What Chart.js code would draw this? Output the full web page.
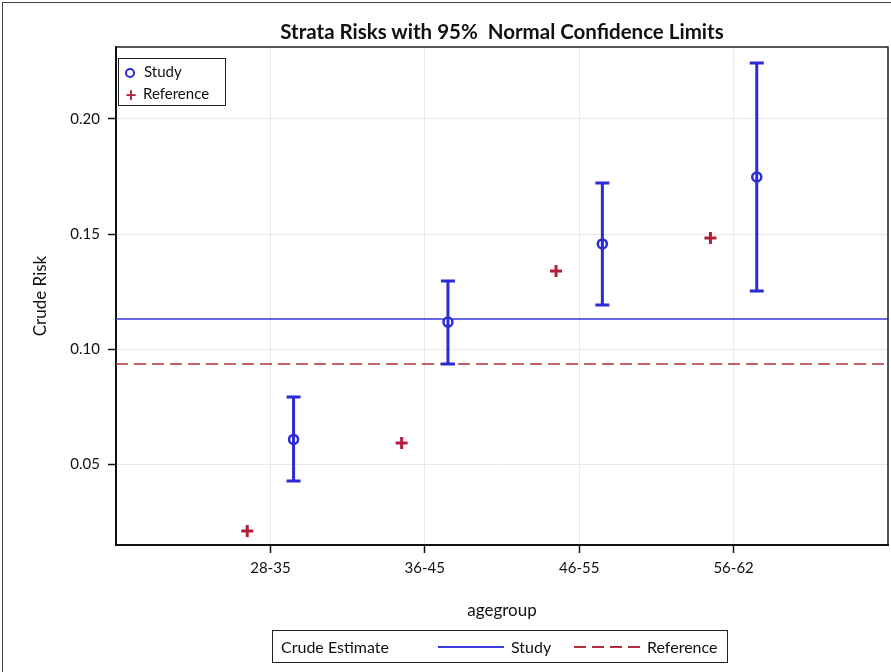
<!DOCTYPE html>
<html>
<head>
<meta charset="utf-8">
<script src="https://cdn.jsdelivr.net/npm/chart.js@4/dist/chart.umd.min.js"></script>
<style>
  html, body { margin: 0; padding: 0; background: #fff; overflow: hidden; }
  #wrap { position: relative; width: 891px; height: 672px; overflow: hidden; font-family: Lato, "Open Sans", Arial, sans-serif; color: #111; }
  #riskChart { display: block; }
  #frame { position: absolute; left: 2px; top: 2px; right: 0; bottom: 0; border-left: 1px solid #444; border-top: 1px solid #444; pointer-events: none; }
  #title { position: absolute; left: 116px; width: 772px; top: 19px; text-align: center; font-weight: bold; font-size: 20.5px; }
  .legend { position: absolute; background: #fff; border: 1px solid #222; font-size: 15px; }
  #innerLegend { left: 118px; top: 58px; width: 106px; height: 46px; }
  #innerLegend div { position: absolute; left: 6px; height: 20px; line-height: 20px; }
  .circ { display: inline-block; width: 6px; height: 6px; border: 2.5px solid #2a2ad8; border-radius: 50%; vertical-align: middle; margin-right: 9px; }
  .plus { display: inline-block; width: 12px; color: #b0203a; font-weight: bold; font-size: 19px; vertical-align: middle; margin-right: 6px; text-align: center; }
  #bottomLegend { left: 272px; top: 630px; width: 454px; height: 31px; line-height: 31px; font-size: 16px; }
  #bottomLegend span { position: absolute; }
  #bottomLegend .ln { position: absolute; top: 15px; width: 66px; height: 1.5px; }
</style>
</head>
<body>
<div id="wrap">
  <canvas id="riskChart" width="897" height="672"></canvas>
  <div id="frame"></div>
  <div id="title">Strata Risks with 95%&nbsp; Normal Confidence Limits</div>
  <div id="innerLegend" class="legend">
    <div style="top:2px"><span class="circ"></span>Study</div>
    <div style="top:24px"><span class="plus">+</span>Reference</div>
  </div>
  <div id="bottomLegend" class="legend">
    <span style="left:8px">Crude Estimate</span>
    <div class="ln" style="left:165px; background:#3a3ae0"></div>
    <span style="left:238px">Study</span>
    <div class="ln" style="left:301px; background:repeating-linear-gradient(to right, #b03040 0 12px, transparent 12px 18px)"></div>
    <span style="left:374px">Reference</span>
  </div>
</div>
<script>
const categories = ['28-35', '36-45', '46-55', '56-62'];
const studyRisk = [0.0607, 0.1117, 0.1457, 0.1748];
const studyLower = [0.0426, 0.0935, 0.1191, 0.1252];
const studyUpper = [0.0791, 0.1296, 0.1722, 0.2243];
const referenceRisk = [0.0209, 0.0591, 0.1339, 0.1483];
const studyCrude = 0.1130;
const referenceCrude = 0.0935;
const yTicks = [0.05, 0.10, 0.15, 0.20];

const BLUE = '#2a2ad8';
const RED = '#b0203a';
const offset = 0.15;

const studyPoints = studyRisk.map((v, i) => ({ x: i + 1 + offset, y: v }));
const refPoints = referenceRisk.map((v, i) => ({ x: i + 1 - offset, y: v }));

// error bars drawn through the scales
const errorBars = {
    id: 'errorBars',
    afterDatasetsDraw(chart) {
        const { ctx, scales: { x, y } } = chart;
        ctx.save();
        ctx.strokeStyle = BLUE;
        ctx.lineWidth = 3;
        studyRisk.forEach((v, i) => {
            const px = x.getPixelForValue(i + 1 + offset);
            const top = y.getPixelForValue(studyUpper[i]);
            const bot = y.getPixelForValue(studyLower[i]);
            ctx.beginPath();
            ctx.moveTo(px, top); ctx.lineTo(px, bot);
            ctx.moveTo(px - 7, top); ctx.lineTo(px + 7, top);
            ctx.moveTo(px - 7, bot); ctx.lineTo(px + 7, bot);
            ctx.stroke();
        });
        ctx.restore();
    }
};

// thin frame on top/right of plot area
const plotFrame = {
    id: 'plotFrame',
    afterDraw(chart) {
        const a = chart.chartArea, ctx = chart.ctx;
        ctx.save();
        ctx.strokeStyle = '#222';
        ctx.lineWidth = 1.5;
        ctx.beginPath();
        ctx.moveTo(a.left, a.top); ctx.lineTo(a.right, a.top); ctx.lineTo(a.right, a.bottom);
        ctx.stroke();
        ctx.restore();
    }
};

const font = "Lato, 'Open Sans', Arial, sans-serif";

new Chart(document.getElementById('riskChart'), {
    type: 'scatter',
    data: {
        datasets: [
            {
                label: 'Study crude', type: 'line',
                data: [{ x: 0, y: studyCrude }, { x: 5, y: studyCrude }],
                borderColor: '#3a3ae0', borderWidth: 1.5, pointRadius: 0, order: 3
            },
            {
                label: 'Reference crude', type: 'line',
                data: [{ x: 0, y: referenceCrude }, { x: 5, y: referenceCrude }],
                borderColor: '#b03040', borderWidth: 1.5, borderDash: [12, 6], pointRadius: 0, order: 3
            },
            {
                label: 'Study', data: studyPoints,
                pointStyle: 'circle', pointRadius: 4.5, borderWidth: 2.5,
                borderColor: BLUE, backgroundColor: '#fff', order: 1
            },
            {
                label: 'Reference', data: refPoints,
                pointStyle: 'cross', pointRadius: 6, borderWidth: 3,
                borderColor: RED, order: 1
            }
        ]
    },
    options: {
        responsive: false,
        animation: false,
        layout: { padding: { top: 47, right: 4, bottom: 47, left: 26 } },
        plugins: {
            legend: { display: false },
            tooltip: { enabled: false },
            title: { display: false }
        },
        scales: {
            x: {
                type: 'linear', min: 0, max: 5,
                afterBuildTicks: s => { s.ticks = categories.map((c, i) => ({ value: i + 1 })); },
                afterFit: s => { s.height = 80; },
                ticks: {
                    callback: v => categories[v - 1] || '',
                    color: '#111', font: { family: font, size: 15 }, padding: 6, maxRotation: 0
                },
                grid: { color: '#e8e8e8', tickColor: '#111', tickLength: 8, tickWidth: 1.5 },
                border: { color: '#111', width: 2 },
                title: {
                    display: true, text: 'agegroup', color: '#111',
                    font: { family: font, size: 17 }, padding: { top: 20 }
                }
            },
            y: {
                min: 0.0148, max: 0.2313,
                afterBuildTicks: s => { s.ticks = yTicks.map(v => ({ value: v })); },
                afterFit: s => { s.width = 90; },
                ticks: {
                    callback: v => v.toFixed(2),
                    color: '#111', font: { family: font, size: 15 }, padding: 8
                },
                grid: { color: '#e8e8e8', tickColor: '#111', tickLength: 8, tickWidth: 1.5 },
                border: { color: '#111', width: 2 },
                title: {
                    display: true, text: 'Crude Risk', color: '#111',
                    font: { family: font, size: 17 }, padding: { bottom: 4 }
                }
            }
        }
    },
    plugins: [errorBars, plotFrame]
});
</script>
</body>
</html>
